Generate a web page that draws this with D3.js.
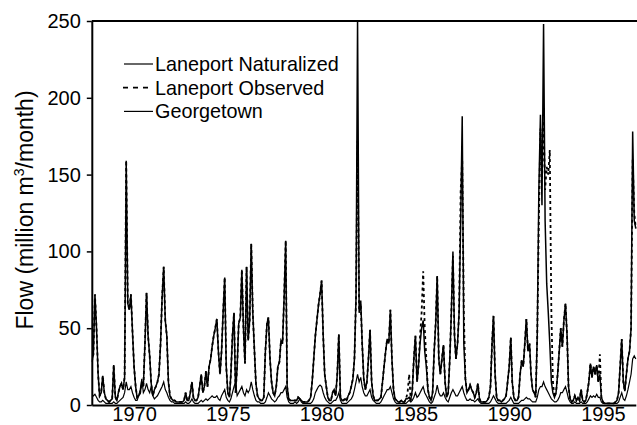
<!DOCTYPE html>
<meta charset="utf-8">
<style>
body { margin: 0; background: #fff; }
svg { display: block; font-family: "Liberation Sans", Arial, sans-serif; }
.axis path, .axis line { stroke: #000; }
.axis text { fill: #000; font-size: 20px; }
</style>
<body>
<script src="https://d3js.org/d3.v7.min.js"></script>
<script>
// monthly flows, water years Oct 1967 .. Sep 1996 (+1 month), million m3/month
var naturalized = [
  28,33,72,50,20,6,8,19,8,4,3,2,
  3,4,26,5,3,8,12,14,10,18,159,66,
  62,72,48,25,12,5,6,8,15,12,40,73,
  45,32,14,6,10,12,15,20,40,70,90,55,
  45,15,6,4,3,3,2,2,2,2,2,3,
  8,3,3,8,15,5,3,3,5,12,20,8,
  12,22,12,25,30,38,45,50,56,35,20,35,
  60,83,25,8,5,20,45,60,8,25,53,57,
  88,50,27,90,42,55,105,60,36,14,6,4,
  3,3,5,35,53,57,30,15,8,6,12,25,
  28,42,40,70,107,12,4,3,3,3,3,3,
  5,4,3,2,2,2,2,3,5,15,30,45,
  55,65,72,81,45,20,12,5,3,3,8,10,
  6,20,46,5,3,3,4,3,6,8,12,17,
  30,70,250,60,68,40,17,10,15,30,49,15,
  6,3,3,3,4,5,15,25,35,43,40,62,
  30,10,4,3,2,2,3,2,2,4,4,5,
  3,10,30,45,15,25,40,50,55,35,25,10,
  5,3,8,35,54,84,30,20,30,39,15,5,
  8,30,60,100,45,30,40,60,120,188,40,17,
  8,10,13,10,8,5,8,14,4,2,2,2,
  2,3,5,12,40,58,20,5,3,3,2,3,
  4,6,15,25,44,15,5,3,3,5,20,29,
  25,40,56,35,40,20,10,8,5,45,140,189,
  130,248,120,79,60,40,15,8,5,8,20,35,
  50,38,55,66,45,12,4,2,3,6,3,5,
  3,10,3,2,3,8,15,27,18,25,20,26,
  15,20,5,2,1,1,1,1,1,1,1,2,
  3,8,25,43,15,9,20,30,35,50,178,120,115
];

var observed = [
  28,33,72,50,20,6,8,19,8,4,3,2,
  3,4,26,5,3,8,12,14,10,18,159,66,
  62,72,48,25,12,5,6,8,15,12,40,73,
  45,32,14,6,10,12,15,20,40,70,90,55,
  45,15,6,4,3,3,2,2,2,2,2,3,
  8,3,3,8,15,5,3,3,5,12,20,8,
  12,22,12,25,30,38,45,50,56,35,20,35,
  60,83,25,8,5,20,45,60,8,25,53,57,
  88,50,27,90,42,55,105,60,36,14,6,4,
  3,3,5,35,53,57,30,15,8,6,12,25,
  28,42,40,70,107,12,4,3,3,3,3,3,
  5,4,3,2,2,2,2,3,5,15,30,45,
  55,65,72,81,45,20,12,5,3,3,8,10,
  6,20,46,5,3,3,4,3,6,8,12,17,
  30,70,172,62,66,40,17,10,15,30,49,15,
  6,3,3,3,4,5,15,25,35,43,40,62,
  30,10,4,3,2,2,3,2,2,4,8,20,
  3,10,30,45,15,25,45,60,87,50,30,10,
  5,3,8,35,55,84,30,20,30,39,15,5,
  8,30,60,97,45,30,40,60,140,160,60,17,
  8,10,13,10,8,5,8,14,4,2,2,2,
  2,3,5,12,40,58,20,5,3,3,2,3,
  4,6,15,25,44,15,5,3,3,5,20,29,
  25,40,56,35,40,20,10,8,5,45,120,180,
  150,185,140,155,150,166,60,15,5,8,20,35,
  50,38,55,66,45,12,4,2,3,6,3,5,
  3,10,3,2,3,8,15,27,18,25,20,26,
  15,33,5,2,1,1,1,1,1,1,1,2,
  3,8,25,43,15,9,20,30,35,50,160,125,115
];

var georgetown = [
  5,6,7,5,3,2,2,3,2,1,1,1,
  1,1,2,1,1,2,3,4,5,8,15,10,
  10,12,8,5,3,3,6,10,17,8,10,14,
  10,8,12,6,4,5,6,8,10,12,15,10,
  8,5,3,2,2,1,1,1,1,1,1,1,
  2,1,1,2,4,2,1,1,1,2,3,2,
  3,4,3,4,5,6,5,5,6,4,3,6,
  8,10,5,3,2,4,8,12,15,6,8,10,
  12,8,6,10,8,10,15,10,6,3,2,2,
  1,1,1,2,5,8,6,4,3,2,3,5,
  6,8,8,10,12,5,2,1,1,1,2,1,
  2,4,2,1,1,1,1,1,1,2,4,8,
  10,12,13,12,8,5,3,2,1,1,2,3,
  3,5,8,3,1,1,1,1,2,3,4,6,
  10,15,20,15,18,12,8,6,6,8,10,5,
  3,2,1,1,1,2,4,6,8,10,10,12,
  8,4,2,1,1,1,1,1,1,1,2,3,
  2,3,5,8,5,6,8,10,12,8,6,4,
  2,1,2,5,8,13,8,6,6,8,5,3,
  2,5,8,10,8,6,6,8,10,12,8,5,
  3,3,4,3,3,2,3,4,2,1,1,1,
  1,1,1,2,4,6,4,2,1,1,1,1,
  1,1,2,3,5,3,1,1,1,1,2,3,
  3,4,5,4,4,3,2,2,2,5,10,12,
  12,15,12,10,8,6,4,3,2,2,3,5,
  8,8,10,12,8,4,2,1,1,2,1,1,
  1,2,1,1,1,2,4,6,5,6,5,7,
  5,5,2,1,1,1,1,1,1,1,1,1,
  1,2,5,8,4,3,6,10,15,20,30,32,30
];

var yTicks = [0, 50, 100, 150, 200, 250];
var xTickYears = [1970, 1975, 1980, 1985, 1990, 1995];
var legendLabels = ["Laneport Naturalized", "Laneport Observed", "Georgetown"];

var width = 637,
    height = 425,
    plotLeft = 91.8,
    plotTop = 21,
    plotBottom = 405;

var months = d3.range(naturalized.length).map(function(i) { return new Date(1967, 9 + i, 1); });

var x = d3.scaleTime()
    .domain([new Date(1967, 9, 1), new Date(1996, 9, 1)])
    .range([plotLeft, 635.8]);

var y = d3.scaleLinear()
    .domain([0, 250])
    .range([plotBottom, plotTop]);

var svg = d3.select("body").append("svg")
    .attr("width", width)
    .attr("height", height);

svg.append("clipPath")
    .attr("id", "plot")
  .append("rect")
    .attr("x", plotLeft)
    .attr("y", plotTop - 1)
    .attr("width", width - plotLeft)
    .attr("height", plotBottom - plotTop + 1);

var line = function(vals) {
  return d3.line()
    .x(function(d, i) { return x(months[i]); })
    .y(function(d) { return y(d); })(vals);
};

var g = svg.append("g").attr("clip-path", "url(#plot)");

g.append("path")
    .attr("d", line(georgetown))
    .attr("fill", "none")
    .attr("stroke", "#000")
    .attr("stroke-width", 1.2);

g.append("path")
    .attr("d", line(naturalized))
    .attr("fill", "none")
    .attr("stroke", "#000")
    .attr("stroke-width", 1.5);

g.append("path")
    .attr("d", line(observed))
    .attr("fill", "none")
    .attr("stroke", "#000")
    .attr("stroke-width", 1.8)
    .attr("stroke-dasharray", "3,3");

// frame top
svg.append("line")
    .attr("x1", plotLeft).attr("x2", width)
    .attr("y1", plotTop).attr("y2", plotTop)
    .attr("stroke", "#000")
    .attr("stroke-width", 2);

var yAxis = svg.append("g")
    .attr("class", "axis")
    .attr("transform", "translate(" + plotLeft + ",0)")
    .call(d3.axisLeft(y).tickValues(yTicks).tickSize(5).tickSizeOuter(0).tickPadding(6));
yAxis.select(".domain").attr("stroke-width", 2);
yAxis.selectAll("line").attr("stroke-width", 1.5);

var xAxis = svg.append("g")
    .attr("class", "axis")
    .attr("transform", "translate(0," + plotBottom + ")")
    .call(d3.axisBottom(x)
      .tickValues(xTickYears.map(function(yr) { return new Date(yr, 0, 1); }))
      .tickFormat(d3.timeFormat("%Y"))
      .tickSize(0)
      .tickSizeOuter(0));
xAxis.select(".domain").attr("stroke-width", 2.2);
xAxis.selectAll("text").attr("y", 16).attr("dy", "0").attr("font-size", 19.5);

// y title
var title = svg.append("text")
    .attr("transform", "translate(33,210)rotate(-90)")
    .attr("text-anchor", "middle")
    .attr("font-size", 23)
    .text("Flow (million m");
title.append("tspan").attr("font-size", 14).attr("dy", -9).text("3");
title.append("tspan").attr("dy", 9).text("/month)");

// legend
var legend = svg.append("g");
var rows = legend.selectAll("g")
    .data(legendLabels)
    .enter().append("g")
    .attr("transform", function(d, i) { return "translate(0," + (64 + i * 23.7) + ")"; });

rows.append("line")
    .attr("x1", function(d, i) { return i == 1 ? 123 : 124; })
    .attr("x2", 153)
    .attr("stroke", "#000")
    .attr("stroke-width", function(d, i) { return i == 1 ? 1.8 : 1.2; })
    .attr("stroke-dasharray", function(d, i) { return i == 1 ? "5,5" : null; });

rows.append("text")
    .attr("x", 155)
    .attr("y", 7)
    .attr("font-size", 19.8)
    .text(function(d) { return d; });
</script>
</body>
</html>
